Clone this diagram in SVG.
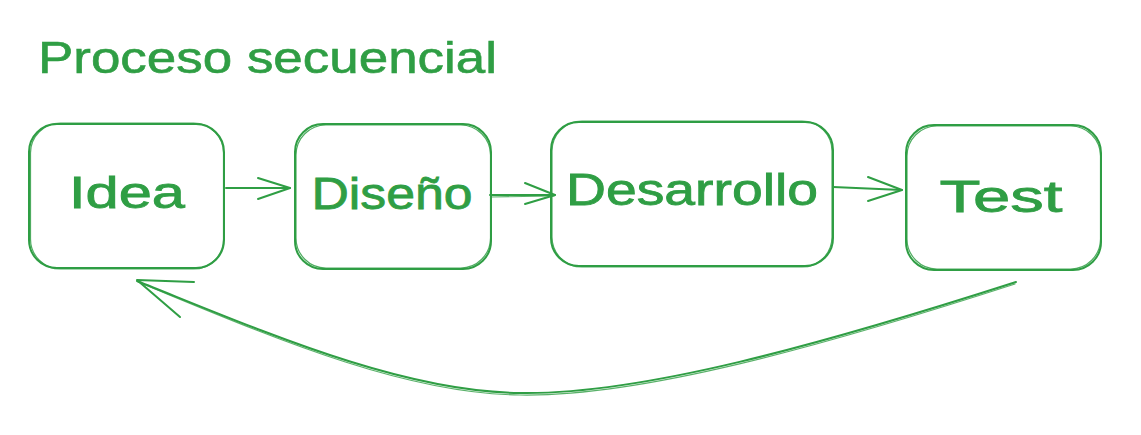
<svg xmlns="http://www.w3.org/2000/svg" width="1141" height="435" viewBox="0 0 1141 435">
  <style>
    .box { fill: none; stroke: #2f9e44; stroke-width: 2; stroke-linejoin: round; }
    .box2 { fill: none; stroke: #2f9e44; stroke-width: 1.2; opacity: 0.85; }
    .lbl { fill: #2f9e44; stroke: #2f9e44; stroke-width: 0.8; font-family: "Liberation Sans", Arial, sans-serif; font-size: 44px; text-anchor: middle; }
    .title { fill: #2f9e44; stroke: #2f9e44; stroke-width: 0.6; font-family: "Liberation Sans", Arial, sans-serif; font-size: 44px; }
    .edge { fill: none; stroke: #2f9e44; stroke-width: 2; stroke-linecap: round; stroke-linejoin: round; }
    .edge2 { fill: none; stroke: #2f9e44; stroke-width: 1.2; stroke-linecap: round; opacity: 0.8; }
  </style>
  <rect width="1141" height="435" fill="#ffffff"/>

  <g id="title">
    <text class="title" x="38" y="73" textLength="459" lengthAdjust="spacingAndGlyphs">Proceso secuencial</text>
  </g>

  <g id="node-idea">
    <rect class="box" x="29" y="124" width="195" height="144" rx="28"/>
    <rect class="box2" x="30.5" y="123" width="193" height="146" rx="30"/>
    <text class="lbl" x="127" y="208" textLength="116" lengthAdjust="spacingAndGlyphs">Idea</text>
  </g>

  <g id="node-diseno">
    <rect class="box" x="295" y="124" width="196" height="145" rx="28"/>
    <rect class="box2" x="296" y="125" width="194.5" height="143" rx="30"/>
    <text class="lbl" x="392" y="209" textLength="161" lengthAdjust="spacingAndGlyphs">Diseño</text>
  </g>

  <g id="node-desarrollo">
    <rect class="box" x="551" y="122" width="282" height="144" rx="28"/>
    <rect class="box2" x="552" y="121" width="280" height="146" rx="30"/>
    <text class="lbl" x="692" y="205" textLength="252" lengthAdjust="spacingAndGlyphs">Desarrollo</text>
  </g>

  <g id="node-test">
    <rect class="box" x="906" y="125" width="195" height="145" rx="28"/>
    <rect class="box2" x="907" y="126" width="193.5" height="143" rx="30"/>
    <text class="lbl" x="1001" y="212" textLength="123" lengthAdjust="spacingAndGlyphs">Test</text>
  </g>

  <g id="connectors">
    <!-- Idea -> Diseño -->
    <path class="edge" d="M226,188 L290,188"/>
    <path class="edge" d="M258,178 L290,188 L258,199"/>
    <!-- Diseño -> Desarrollo -->
    <path class="edge" d="M490,195 L555,195"/>
    <path class="edge2" d="M491,197 L554,196"/>
    <path class="edge" d="M525,183 L555,195 L525,204"/>
    <!-- Desarrollo -> Test -->
    <path class="edge" d="M833,187 L902,190"/>
    <path class="edge" d="M868,177 L902,190 L868,201"/>
    <!-- Test -> Idea (feedback) -->
    <path class="edge" d="M1016,282 C820,345 640,395 520,393 C400,392 260,330 137,281"/>
    <path class="edge2" d="M1015,284 C820,347 640,397 520,395 C400,394 260,332 138,282"/>
    <path class="edge" d="M194,282 L137,280 L180,317"/>
  </g>
</svg>
